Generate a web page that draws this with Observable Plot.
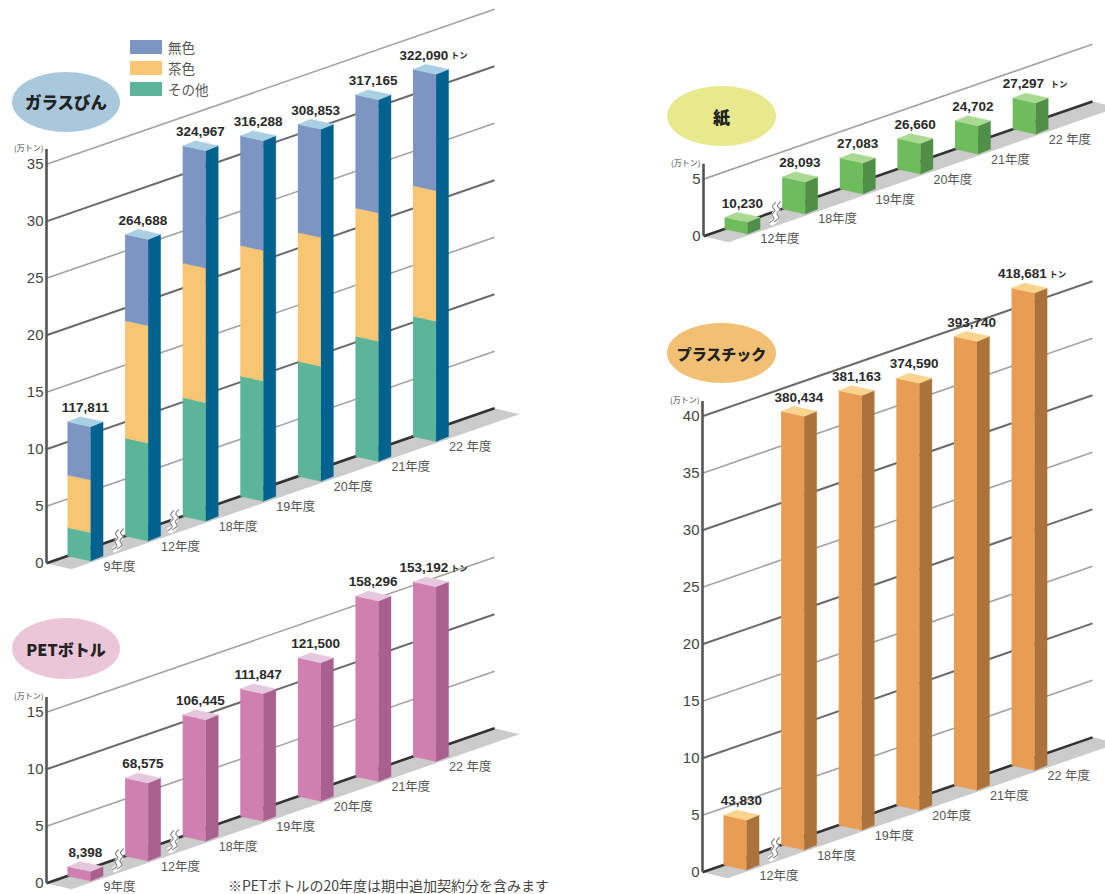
<!DOCTYPE html>
<html lang="ja">
<head>
<meta charset="utf-8">
<script src="https://cdn.jsdelivr.net/npm/d3@7"></script>
<script src="https://cdn.jsdelivr.net/npm/@observablehq/plot@0.6"></script>
<style>
  html, body { margin: 0; padding: 0; background: #fff; overflow: hidden; }
  #page { position: relative; width: 1105px; height: 894px; overflow: hidden;
          font-family: "Liberation Sans", "Noto Sans CJK JP", sans-serif; }
  #page svg { position: absolute; overflow: visible; }
  .badge { position: absolute; border-radius: 50%; display: flex; align-items: center; justify-content: center;
           font: 900 16px "Noto Sans CJK JP", sans-serif; color: #222; letter-spacing: 0; }
  .swatch { position: absolute; left: 130px; width: 32px; height: 14px; }
  .legend-text { position: absolute; left: 168px; font: 13.5px "Noto Sans CJK JP", sans-serif; color: #555; line-height: 16px; }
  #note { position: absolute; left: 228px; top: 876px; font: 14px "Noto Sans CJK JP", "Liberation Sans", sans-serif;
          color: #444; white-space: nowrap; line-height: 18px; }
</style>
</head>
<body>
<div id="page"></div>
<script>
// Tonnage by fiscal year for each container material
const yearsFrom9 = ["9年度", "12年度", "18年度", "19年度", "20年度", "21年度", "22 年度"];
const yearsFrom12 = ["12年度", "18年度", "19年度", "20年度", "21年度", "22 年度"];

const glassTotal = [117811, 264688, 324967, 316288, 308853, 317165, 322090];
const glassOther = [25000, 86000, 104000, 105500, 101000, 105500, 105500];
const glassBrown = [46000, 103000, 118000, 114500, 113000, 112500, 114500];
const glassClear = [46811, 75688, 102967, 96288, 94853, 99165, 102090];

const petTotal = [8398, 68575, 106445, 111847, 121500, 158296, 153192];
const paperTotal = [10230, 28093, 27083, 26660, 24702, 27297];
const plasticTotal = [43830, 380434, 381163, 374590, 393740, 418681];

const glassTicks = [0, 5, 10, 15, 20, 25, 30, 35];
const petTicks = [0, 5, 10, 15];
const paperTicks = [0, 5];
const plasticTicks = [0, 5, 10, 15, 20, 25, 30, 35, 40];

const legendItems = ["無色", "茶色", "その他"];

// Oblique drawing: every slot along the floor rises by `rise` units,
// and each bar has a front face and a receding side face.
const slotPx = 57.6, unitPx = 11.4;
const rise = 1.748;
const firstSlot = 0.365;
const faceW = 0.4, sideW = 0.217, skew = 0.44;

const px = v => v / slotPx;   // horizontal pixels in slot units
const py = v => v / unitPx;   // vertical pixels in value units

const tint = {
  clear: "#7c95c2", brown: "#f8c673", other: "#5cb598",
  glassSide: "#02628f", glassTop: "#a9cfe3",
  pet: "#d07fb1", petSide: "#a9608f", petTop: "#e6c8de",
  paper: "#6fbc5c", paperSide: "#4f8f47", paperTop: "#a9d993",
  plastic: "#e99c53", plasticSide: "#ab733b", plasticTop: "#fad38f"
};

// One stacked or single bar becomes a list of polygon vertices.
function barFaces(slot, layers, sideColor, topColor, id) {
  const s = firstSlot + slot;
  const b = rise * s;
  const rows = [];
  const poly = (name, color, pts) => pts.forEach(([x, y]) => rows.push({id: `${id}-${name}`, color, x, y}));
  let lo = 0;
  layers.forEach(({value, color}, i) => {
    const hi = lo + value;
    poly(`f${i}`, color, [
      [s, b + lo], [s + faceW, b + lo - skew],
      [s + faceW, b + hi - skew], [s, b + hi]
    ]);
    lo = hi;
  });
  poly("side", sideColor, [
    [s + faceW, b - skew], [s + faceW + sideW, b],
    [s + faceW + sideW, b + lo], [s + faceW, b + lo - skew]
  ]);
  poly("top", topColor, [
    [s, b + lo], [s + faceW, b + lo - skew],
    [s + faceW + sideW, b + lo], [s + sideW, b + lo + skew]
  ]);
  return rows;
}

// Small wavy break mark set across the floor line.
const waveShape = [[4, -10], [1, -6], [3.5, -2], [0.5, 2], [2.5, 6], [-2, 10]];
function waveRows(slot, shift) {
  return waveShape.map(([dx, dy]) => ({
    x: slot + px(dx + shift),
    y: rise * slot - py(dy - shift * 0.2)
  }));
}

function drawPanel(cfg) {
  const {left, base, ticks, span, years, totals, layers, sideColor, topColor, breaks} = cfg;
  const top = ticks[ticks.length - 1];
  const yMax = top + rise * span + 2;
  const yMin = -3;
  const xMax = span + px(30);
  const width = Math.round(xMax * slotPx) + 46;
  const height = Math.round((yMax - yMin) * unitPx);

  const polygons = totals.flatMap((t, i) =>
    barFaces(i, layers(i, t), sideColor, topColor, `bar${i}`));
  const slots = totals.map((t, i) => ({
    slot: firstSlot + i,
    tons: t,
    floor: rise * (firstSlot + i),
    height: t / 10000,
    value: d3.format(",")(t),
    year: years[i]
  }));
  const last = slots[slots.length - 1];
  const grid = ticks.filter(t => t > 0);
  const floorDx = px(25), floorDy = py(6);
  const floor = [
    {x: 0, y: 0}, {x: span, y: rise * span},
    {x: span + floorDx, y: rise * span - floorDy}, {x: floorDx, y: -floorDy}
  ];

  const plot = Plot.plot({
    width, height,
    marginLeft: 46, marginRight: 0, marginTop: 0, marginBottom: 0,
    style: {background: "transparent", overflow: "visible"},
    x: {domain: [0, xMax], range: [46, width], axis: null},
    y: {domain: [yMin, yMax], range: [height, 0], axis: null},
    marks: [
      Plot.line(floor, {x: "x", y: "y", fill: "#cbcbcb", stroke: "none"}),
      Plot.link(grid, {
        x1: 0, x2: span, y1: d => d, y2: d => d + rise * span,
        stroke: d => d % 10 === 0 ? "#6a6a6a" : "#a2a2a2",
        strokeWidth: d => d % 10 === 0 ? 2 : 1.6
      }),
      Plot.link([0], {x1: 0, x2: span, y1: 0, y2: rise * span, stroke: "#333", strokeWidth: 2.6}),
      Plot.ruleX([0], {y1: 0, y2: top + 1.3, stroke: "#555", strokeWidth: 2.6}),
      Plot.axisY({
        ticks, tickSize: 0, tickPadding: 3, label: null,
        fontSize: 15, fill: "#444", fontFamily: "Liberation Sans"
      }),
      Plot.text(["(万トン)"], {
        x: 0, y: top + 1.4, text: d => d, textAnchor: "end", dx: -3,
        fontSize: 8, fill: "#444", fontFamily: "Noto Sans CJK JP"
      }),
      ...breaks.flatMap(b => [
        Plot.line(waveRows(b, 2.5), {x: "x", y: "y", stroke: "#fff", strokeWidth: 6, curve: "catmull-rom"}),
        Plot.line(waveRows(b, 0), {x: "x", y: "y", stroke: "#888", strokeWidth: 1.2, curve: "catmull-rom"}),
        Plot.line(waveRows(b, 5), {x: "x", y: "y", stroke: "#888", strokeWidth: 1.2, curve: "catmull-rom"})
      ]),
      Plot.line(polygons, {
        x: "x", y: "y", z: "id",
        fill: {value: "color", scale: null},
        stroke: {value: "color", scale: null},
        strokeWidth: 0.4
      }),
      Plot.text(slots, {
        x: d => d.slot + (faceW + sideW) / 2 + (d === last ? px(-7) : 0),
        y: d => d.floor + d.height,
        dy: -14,
        text: "value",
        fontSize: 13.5, fontWeight: 700, fill: "#2a2a2a",
        fontFamily: "Liberation Sans"
      }),
      Plot.text([last], {
        x: d => d.slot + (faceW + sideW) / 2 + px(-7) + px(27),
        y: d => d.floor + d.height,
        dy: -14,
        text: () => "トン",
        textAnchor: "start",
        fontSize: 8.5, fontWeight: 700, fill: "#2a2a2a",
        fontFamily: "Noto Sans CJK JP"
      }),
      Plot.text(slots, {
        x: d => d.slot + px(36),
        y: d => d.floor,
        dy: 10.5,
        text: "year",
        textAnchor: "start",
        fontSize: 12.5, fill: "#555",
        fontFamily: "Liberation Sans, Noto Sans CJK JP"
      })
    ]
  });
  plot.style.left = `${left}px`;
  plot.style.top = `${base - yMax * unitPx}px`;
  document.getElementById("page").appendChild(plot);
}

const single = color => (i, t) => [{value: t / 10000, color}];

drawPanel({
  left: 0, base: 563, ticks: glassTicks, span: 7.78, years: yearsFrom9, totals: glassTotal,
  layers: i => [
    {value: glassOther[i] / 10000, color: tint.other},
    {value: glassBrown[i] / 10000, color: tint.brown},
    {value: glassClear[i] / 10000, color: tint.clear}
  ],
  sideColor: tint.glassSide, topColor: tint.glassTop, breaks: [1.18, 2.14]
});
drawPanel({
  left: 0, base: 883, ticks: petTicks, span: 7.78, years: yearsFrom9, totals: petTotal,
  layers: single(tint.pet), sideColor: tint.petSide, topColor: tint.petTop, breaks: [1.18, 2.14]
});
drawPanel({
  left: 657, base: 235, ticks: paperTicks, span: 6.75, years: yearsFrom12, totals: paperTotal,
  layers: single(tint.paper), sideColor: tint.paperSide, topColor: tint.paperTop, breaks: [1.18]
});
drawPanel({
  left: 656, base: 872, ticks: plasticTicks, span: 6.77, years: yearsFrom12, totals: plasticTotal,
  layers: single(tint.plastic), sideColor: tint.plasticSide, topColor: tint.plasticTop, breaks: [1.18]
});

// Category badges, legend and footnote sit beside the plots.
const page = document.getElementById("page");
function addBadge(text, x, y, w, h, bg, size) {
  const el = document.createElement("div");
  el.className = "badge";
  el.textContent = text;
  el.style.cssText = `left:${x}px;top:${y}px;width:${w}px;height:${h}px;background:${bg};font-size:${size}px`;
  page.appendChild(el);
}
addBadge("ガラスびん", 12, 72, 108, 60, "#a9c8dc", 16.5);
addBadge("PETボトル", 12, 618, 108, 61, "#ebc6d8", 16);
addBadge("紙", 667, 86, 109, 60, "#e8e88c", 17);
addBadge("プラスチック", 667, 323, 109, 60, "#f1c074", 15);

[tint.clear, tint.brown, tint.other].forEach((color, i) => {
  const swatch = document.createElement("div");
  swatch.className = "swatch";
  swatch.style.top = `${40 + i * 21}px`;
  swatch.style.background = color;
  page.appendChild(swatch);
  const label = document.createElement("div");
  label.className = "legend-text";
  label.style.top = `${39 + i * 21}px`;
  label.textContent = legendItems[i];
  page.appendChild(label);
});

const note = document.createElement("div");
note.id = "note";
note.textContent = "※PETボトルの20年度は期中追加契約分を含みます";
page.appendChild(note);
</script>
</body>
</html>
